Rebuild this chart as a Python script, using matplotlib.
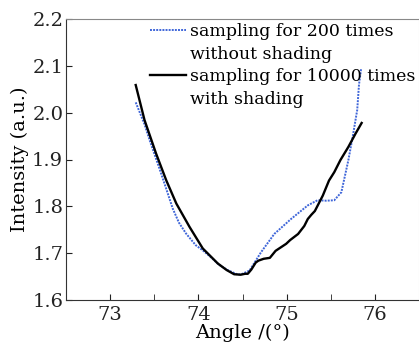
import matplotlib
matplotlib.use("Agg")
import matplotlib.pyplot as plt
from matplotlib.lines import Line2D

# Black curve: sampling for 10000 times with shading
black_x = [73.29, 73.39, 73.52, 73.635, 73.75, 73.90, 74.05, 74.22, 74.32, 74.405, 74.48,
           74.53, 74.56, 74.60, 74.65, 74.68, 74.74, 74.81, 74.875, 74.995, 75.04, 75.13,
           75.20, 75.24, 75.28, 75.32, 75.41, 75.48, 75.54, 75.61, 75.70, 75.78, 75.85]
black_y = [2.059, 1.984, 1.913, 1.856, 1.806, 1.756, 1.710, 1.678, 1.664, 1.655, 1.654,
           1.656, 1.656, 1.665, 1.680, 1.684, 1.688, 1.690, 1.705, 1.720, 1.728, 1.741,
           1.758, 1.773, 1.782, 1.790, 1.823, 1.855, 1.873, 1.899, 1.927, 1.955, 1.978]

# Blue dotted curve: sampling for 200 times without shading
blue_x = [73.29, 73.39, 73.45, 73.56, 73.64, 73.71, 73.78, 73.86, 73.97, 74.05, 74.15,
          74.236, 74.33, 74.45, 74.50, 74.58, 74.71, 74.86, 75.05, 75.24, 75.35, 75.45,
          75.54, 75.62, 75.67, 75.70, 75.75, 75.80, 75.82, 75.845]
blue_y = [2.022, 1.975, 1.940, 1.880, 1.835, 1.795, 1.765, 1.742, 1.717, 1.706, 1.690,
          1.675, 1.664, 1.654, 1.656, 1.663, 1.702, 1.741, 1.773, 1.802, 1.813, 1.812,
          1.813, 1.830, 1.873, 1.899, 1.950, 2.006, 2.060, 2.095]

xticks = [73, 74, 75, 76]
xminor = [73.5, 74.5, 75.5]
yticks = [1.6, 1.7, 1.8, 1.9, 2.0, 2.1, 2.2]

plt.rcParams['font.family'] = ['DejaVu Serif']

fig = plt.figure(figsize=(4.19, 3.44), dpi=100)
ax = fig.add_axes([66/419, 44/344, 353/419, 281/344])

blue_style = dict(color='#3f66d9', linestyle=(0, (1, 0.6)), linewidth=1.4)
black_style = dict(color='black', linewidth=1.7)
ax.plot(blue_x, blue_y, **blue_style)
ax.plot(black_x, black_y, **black_style)

ax.set_xlim(72.5, 76.5)
ax.set_ylim(1.6, 2.2)
ax.set_xticks(xticks)
ax.set_xticklabels([str(t) for t in xticks])
ax.set_xticks(xminor, minor=True)
ax.set_yticks(yticks)
ax.set_yticklabels([f"{t:.1f}" for t in yticks])

ax.tick_params(axis='both', which='both', direction='in', labelsize=14, colors='#222222')
ax.tick_params(axis='x', which='both', length=4, pad=4)
ax.tick_params(axis='y', which='major', length=4, pad=2)

ax.spines['top'].set_color('#888888')
ax.spines['right'].set_color('#dddddd')
ax.spines['left'].set_color('#333333')
ax.spines['bottom'].set_color('#333333')

ax.set_xlabel('Angle /(°)', fontsize=14, labelpad=0)
ax.set_ylabel('Intensity (a.u.)', fontsize=14, labelpad=2)

blank = Line2D([], [], color='none')
handles = [Line2D([], [], **blue_style), blank, Line2D([], [], **black_style), blank]
labels = ['sampling for 200 times', 'without shading',
          'sampling for 10000 times', 'with shading']
fig.legend(handles, labels, loc='upper left', bbox_to_anchor=(150/419, 1 - 23/344),
           bbox_transform=fig.transFigure, frameon=False, fontsize=12.5,
           handlelength=2.1, handletextpad=0.2, labelspacing=0.32,
           borderpad=0, borderaxespad=0)

fig.savefig('out.png', dpi=100)
